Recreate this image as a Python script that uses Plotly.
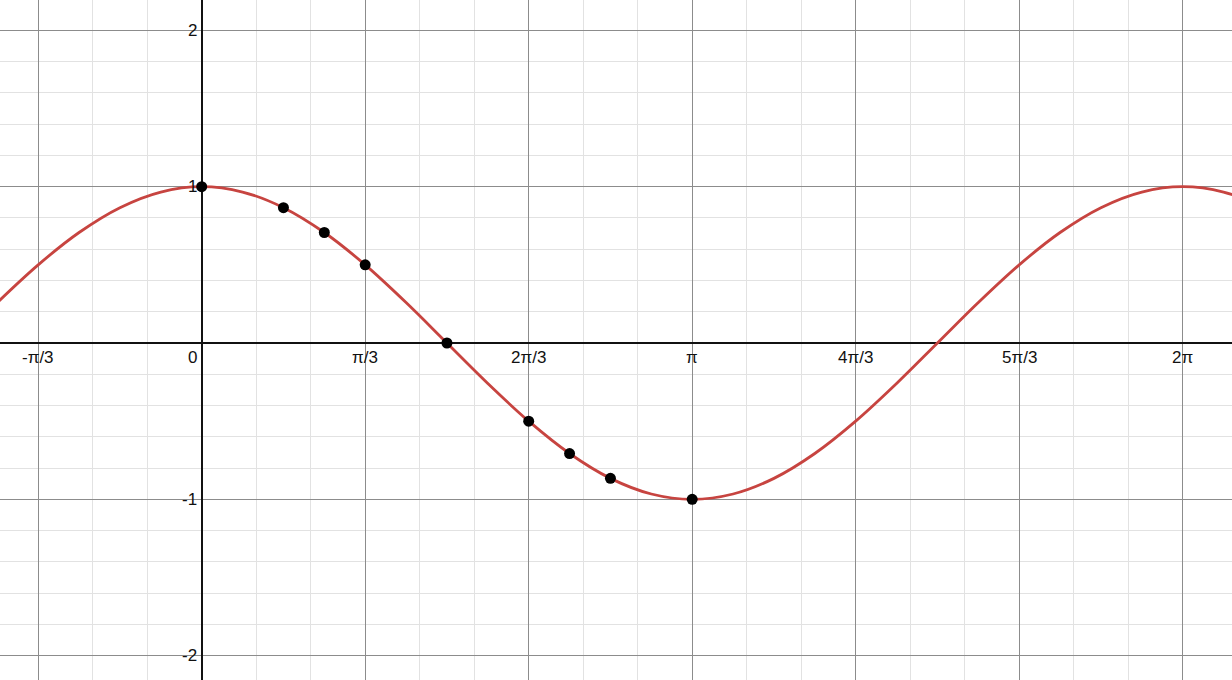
import numpy as np
import plotly.graph_objects as go

# curva y = cos(x), muestras leidas cada pi/12
curva_k = [-5, -4, -3, -2, -1, 0, 1, 2, 3, 4, 5, 6, 7, 8, 9, 10, 11, 12,
           13, 14, 15, 16, 17, 18, 19, 20, 21, 22, 23, 24, 25, 26]
curva_y = [0.259, 0.5, 0.707, 0.866, 0.966, 1, 0.966, 0.866, 0.707, 0.5, 0.259, 0,
           -0.259, -0.5, -0.707, -0.866, -0.966, -1, -0.966, -0.866, -0.707, -0.5, -0.259, 0,
           0.259, 0.5, 0.707, 0.866, 0.966, 1, 0.966, 0.866]

# puntos marcados (x en multiplos de pi)
puntos_x_pi = [0, 1/6, 1/4, 1/3, 1/2, 2/3, 3/4, 5/6, 1]
puntos_y = [1, 0.866, 0.707, 0.5, 0, -0.5, -0.707, -0.866, -1]

# etiquetas de los ejes
ticks_x_tercios = [-1, 1, 2, 3, 4, 5, 6]
ticks_x_texto = ['-π/3', 'π/3', '2π/3', 'π', '4π/3', '5π/3', '2π']
ticks_y = [2, 1, -1, -2]
ticks_y_texto = ['2', '1', '-1', '-2']

X_MIN, X_MAX = -1.2918, 6.599
Y_MIN, Y_MAX = -2.156, 2.1945

curva_x = [k * np.pi / 12 for k in curva_k]
puntos_x = [p * np.pi for p in puntos_x_pi]

fig = go.Figure()
fig.add_trace(go.Scatter(x=curva_x, y=curva_y, mode='lines', line_shape='spline',
                         line=dict(color='#c74440', width=2.8), hoverinfo='skip'))
fig.add_trace(go.Scatter(x=puntos_x, y=puntos_y, mode='markers',
                         marker=dict(color='black', size=11)))

mayores_x = [k * np.pi / 3 for k in range(-2, 8)]
menores_x = [k * np.pi / 9 for k in range(-6, 22)]
fig.update_xaxes(range=[X_MIN, X_MAX], tickmode='array', tickvals=mayores_x,
                 showticklabels=False, showgrid=True, gridcolor='#8c8c8c', gridwidth=1,
                 minor=dict(tickmode='array', tickvals=menores_x, showgrid=True,
                            gridcolor='#e2e2e2', gridwidth=1),
                 zeroline=True, zerolinecolor='#111111', zerolinewidth=2, showline=False)
fig.update_yaxes(range=[Y_MIN, Y_MAX], tickmode='array', tickvals=[-3, -2, -1, 0, 1, 2, 3],
                 showticklabels=False, showgrid=True, gridcolor='#8c8c8c', gridwidth=1,
                 minor=dict(tickmode='array', tickvals=[v / 5 for v in range(-15, 16)],
                            showgrid=True, gridcolor='#e2e2e2', gridwidth=1),
                 zeroline=True, zerolinecolor='#111111', zerolinewidth=2, showline=False)

fuente = dict(family='Liberation Sans, Arial', size=17, color='#111111')
for t, txt in zip(ticks_x_tercios, ticks_x_texto):
    fig.add_annotation(x=t * np.pi / 3, y=0, text=txt, showarrow=False, font=fuente,
                       xanchor='center', yanchor='middle', yshift=-14)
fig.add_annotation(x=0, y=0, text='0', showarrow=False, font=fuente,
                   xanchor='right', yanchor='middle', yshift=-14, xshift=-3)
for v, txt in zip(ticks_y, ticks_y_texto):
    fig.add_annotation(x=0, y=v, text=txt, showarrow=False, font=fuente,
                       xanchor='right', yanchor='middle', xshift=-3)

fig.update_layout(width=1232, height=680, margin=dict(l=0, r=0, t=0, b=0),
                  plot_bgcolor='white', paper_bgcolor='white', showlegend=False)
fig.write_html('out.html', config={'displayModeBar': False},
               post_script="document.body.style.margin='0';document.body.style.overflow='hidden';")
